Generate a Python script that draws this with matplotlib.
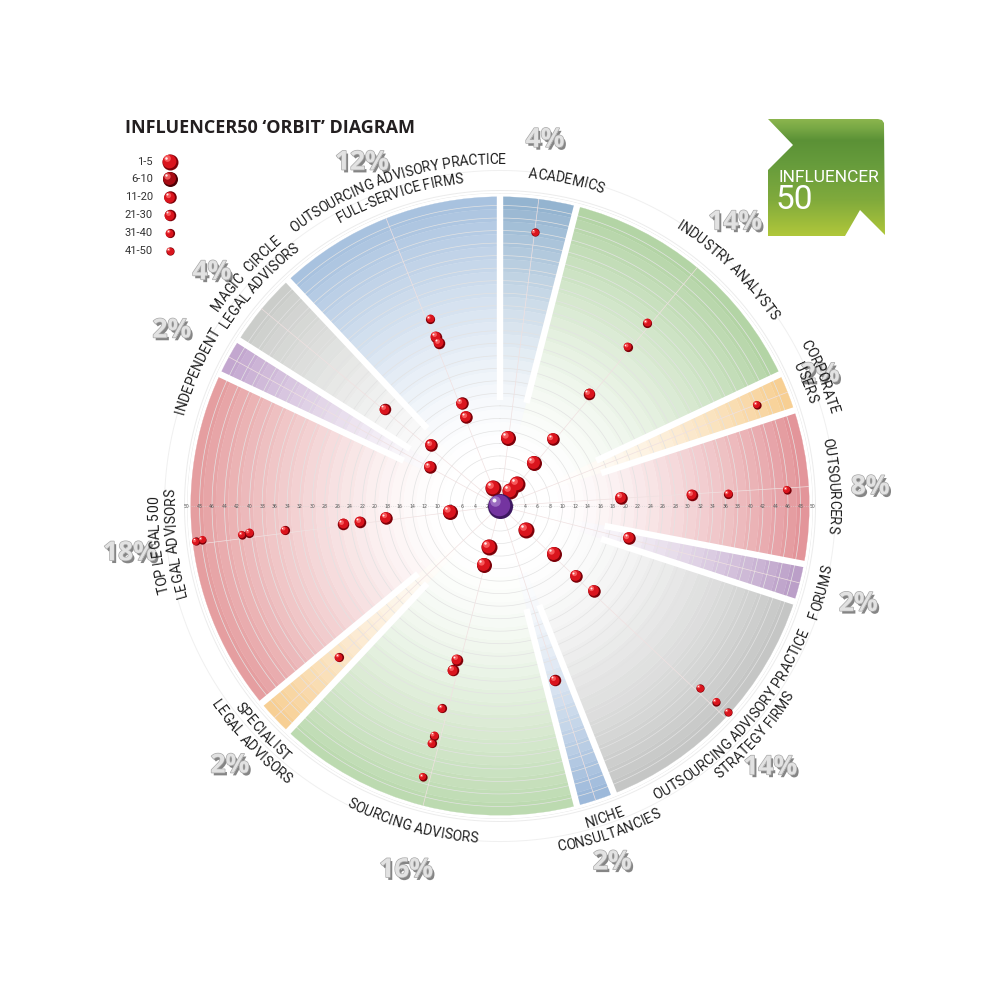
import numpy as np
import matplotlib
matplotlib.use('Agg')
import matplotlib.pyplot as plt
import matplotlib.colors as mcolors
from matplotlib import transforms, patheffects
from matplotlib.font_manager import FontProperties
from matplotlib.patches import Polygon

## Data
shares = [4, 14, 2, 8, 2, 14, 2, 16, 2, 18, 2, 4, 12]
label_lines = [
    ['ACADEMICS'],
    ['INDUSTRY ANALYSTS'],
    ['CORPORATE', 'USERS'],
    ['OUTSOURCERS'],
    ['FORUMS'],
    ['OUTSOURCING ADVISORY PRACTICE', 'STRATEGY FIRMS'],
    ['NICHE', 'CONSULTANCIES'],
    ['SOURCING ADVISORS'],
    ['SPECIALIST', 'LEGAL ADVISORS'],
    ['TOP LEGAL 500', 'LEGAL ADVISORS'],
    ['INDEPENDENT'],
    ['MAGIC  CIRCLE', 'LEGAL ADVISORS'],
    ['OUTSOURCING ADVISORY PRACTICE', 'FULL-SERVICE FIRMS'],
]
sector_colors = ['#94b4d0', '#b3d4a5', '#f7cf93', '#e3959a', '#bb9fc8', '#c5c6c5',
                 '#9db9da', '#bcdab0', '#f7cf94', '#e59ea0', '#c3a7cf', '#cbcdca', '#a8c2df']

# influencers: sector index, angle (deg, clockwise from top), distance from centre
bubble_sector = [0, 0,
                 1, 1, 1, 1, 1, 1, 1,
                 2,
                 3, 3, 3, 3,
                 4,
                 5, 5, 5, 5, 5, 5, 5,
                 6,
                 7, 7, 7, 7, 7, 7, 7, 7,
                 8,
                 9, 9, 9, 9, 9, 9, 9, 9, 9,
                 10,
                 11, 11,
                 12, 12, 12, 12, 12, 12]
bubble_theta = [7.3, 6.7,
                38.8, 38.8, 38.5, 38.3, 38.3, 37.7, 33.7,
                68.5,
                86.2, 86.7, 87.0, 86.8,
                104.0,
                132.7, 131.6, 132.6, 132.1, 132.3, 132.2, 132.1,
                162.5,
                195.0, 195.2, 195.6, 196.0, 196.0, 196.0, 196.0, 195.9,
                226.8,
                263.2, 264.0, 263.5, 263.5, 263.6, 263.9, 263.6, 263.5, 263.4,
                299.1,
                311.5, 310.1,
                338.7, 339.1, 339.7, 339.5, 339.3, 339.5]
bubble_r = [44.1, 10.9,
            37.5, 32.6, 22.9, 13.6, 8.8, 4.4, 2.9,
            44.1,
            19.4, 30.7, 36.5, 45.9,
            21.2,
            5.7, 11.5, 16.5, 20.2, 43.2, 46.6, 49.1,
            29.2,
            6.8, 9.8, 25.5, 27.3, 33.6, 38.2, 39.4, 45.0,
            35.3,
            8.0, 18.3, 22.5, 25.2, 34.6, 40.3, 41.5, 47.9, 48.9,
            12.8,
            14.7, 24.0,
            3.1, 15.2, 17.5, 27.8, 28.9, 31.9]

legend_labels = ['1-5', '6-10', '11-20', '21-30', '31-40', '41-50']
legend_upper = [5, 10, 20, 30, 40, 50]

# layout (not data): where the texts sit
label_angle = [11.5, 44, 68, 86.5, 105, 132, 161.5, 195.5, 226.5, 263.5, 294.0, 312.5, 342]
label_flip = [False, False, False, False, True, True, True, True, True, False, False, False, False]
pct_pos = [(7.0, 59.0), (39.6, 58.9), (67.6, 55.3), (87.0, 59.2), (105.2, 59.3), (134.0, 60.0),
           (162.5, 59.6), (194.5, 60.0), (226.2, 59.8), (262.8, 59.6), (298.2, 59.5),
           (309.1, 59.3), (338.1, 59.2)]

bin_diam = [16, 15, 12.5, 11.5, 9.2, 8.3]  # px
leg_dark = ['#7d0008', '#4e0005', '#7d0008', '#7d0008', '#7d0008', '#7d0008']
leg_mid = ['#da141d', '#a80b14', '#da141d', '#da141d', '#da141d', '#da141d']

LABEL_FONT = 'Roboto'

fig = plt.figure(figsize=(10, 10), dpi=100)
fig.patch.set_facecolor('white')
ax = fig.add_axes([0.187, 0.181, 0.626, 0.626], projection='polar')
ax.set_theta_zero_location('N')
ax.set_theta_direction(-1)
ax.set_ylim(0, 50)
ax.axis('off')

shares_a = np.array(shares, dtype=float)
edges = np.concatenate([[0], np.cumsum(shares_a)]) * 3.6
widths = shares_a * 3.6
mids = edges[:-1] + widths / 2

## Coloured wedges, stepped fade to the centre
ring_top = np.arange(49.4, 9, -2.0)
for i in range(len(shares)):
    base = np.array(mcolors.to_rgb(sector_colors[i]))
    for top in ring_top:
        t = np.clip((top - 1 - 8) / (48.4 - 8), 0, 1) ** 1.5
        col = 1 - t * (1 - base)
        ax.bar(np.radians(mids[i]), 2.0, width=np.radians(widths[i]), bottom=top - 2,
               color=col, edgecolor=col, lw=0.2, zorder=1)

tt = np.linspace(0, 2 * np.pi, 721)
for k in range(2, 51, 2):
    ax.plot(tt, np.full_like(tt, k), color='#e3e3e3', lw=0.5, zorder=2)
ax.plot(tt, np.full_like(tt, 50.4), color='#ececec', lw=0.7, zorder=2, clip_on=False)
ax.plot(tt, np.full_like(tt, 53.6), color='#f0f0f0', lw=0.7, zorder=2, clip_on=False)

for m in mids:
    ax.plot([np.radians(m)] * 2, [0, 49.4], color='#f0e1e1', lw=0.5, zorder=2)

for e in edges[:-1]:
    ax.plot([np.radians(e)] * 2, [17, 49.8], color='white', lw=4.6, zorder=3,
            solid_capstyle='butt')

for a in (90, 270):
    ax.plot([np.radians(a)] * 2, [0, 50], color='#d5d5d5', lw=0.5, ls=':', zorder=3)
    for k in range(2, 51, 2):
        ax.text(np.radians(a), k, str(k), fontsize=3.3, color='#555555',
                ha='center', va='center', zorder=4)


## Spheres
def spheres(axis, xs, ys, diam, dark, mid, light, z):
    d = diam * 0.72
    def shift(f):
        return axis.transData + transforms.ScaledTranslation(-d * f / 72, d * f / 72,
                                                             fig.dpi_scale_trans)
    axis.scatter(xs, ys, s=d ** 2, c=dark, lw=0, zorder=z, clip_on=False)
    axis.scatter(xs, ys, s=(d * 0.86) ** 2, c=mid, lw=0, zorder=z + 0.1,
                 transform=shift(0.06), clip_on=False)
    axis.scatter(xs, ys, s=(d * 0.42) ** 2, c=light, lw=0, zorder=z + 0.2, alpha=0.8,
                 transform=shift(0.2), clip_on=False)
    axis.scatter(xs, ys, s=(d * 0.16) ** 2, c='white', lw=0, zorder=z + 0.3, alpha=0.9,
                 transform=shift(0.26), clip_on=False)


rank = np.empty(len(bubble_r), dtype=int)
rank[np.argsort(bubble_r, kind='stable')] = np.arange(1, len(bubble_r) + 1)
bins = np.searchsorted(legend_upper, rank)
th = np.radians(bubble_theta)
rr = np.array(bubble_r)
order = np.argsort(-rr)
for j in order:
    b = bins[j]
    spheres(ax, [th[j]], [rr[j]], bin_diam[b], '#7d0008', '#da141d', '#ff6a6a',
            5 + (50 - rr[j]) * 0.01)

spheres(ax, [0], [0], 25, '#3d1760', '#7434a0', '#a679c9', 6)

## Percentages
pe = [patheffects.SimplePatchShadow(offset=(1.6, -2.0), shadow_rgbFace='#222222', alpha=0.55),
      patheffects.Stroke(linewidth=1.0, foreground='#a8a8a8'), patheffects.Normal()]
for (a, r), s in zip(pct_pos, shares):
    ax.text(np.radians(a), r, f'{s}%', fontsize=19, fontweight='bold', color='#e2e2e2',
            family='Open Sans', ha='center', va='center', path_effects=pe, clip_on=False,
            zorder=6)

## Curved sector labels
renderer = fig.canvas.get_renderer()
p0 = ax.transData.transform((0, 0))
p1 = ax.transData.transform((0, 50))
ppu = np.hypot(*(p1 - p0)) / 50
fp = FontProperties(family=LABEL_FONT, size=10)


def text_w(s):
    return renderer.get_text_width_height_descent(s, fp, ismath=False)[0]


def arc_text(s, theta_c, r, flip):
    bar = text_w('|')
    pos = [text_w(s[:i] + '|') - bar for i in range(len(s) + 1)]
    total = pos[-1]
    R = r * ppu
    for i, ch in enumerate(s):
        if ch == ' ':
            continue
        d = np.degrees(((pos[i] + pos[i + 1]) / 2 - total / 2) / R)
        if flip:
            a = theta_c - d
            rot = 180 - a
        else:
            a = theta_c + d
            rot = -a
        ax.text(np.radians(a), r, ch, fontproperties=fp, color='#1e1e1e', rotation=rot,
                rotation_mode='anchor', ha='center', va='center', clip_on=False, zorder=6)


for lines, a, fl in zip(label_lines, label_angle, label_flip):
    if len(lines) == 1:
        arc_text(lines[0], a, 53.2, fl)
    else:
        radii = [52.6, 55.3] if fl else [55.3, 52.6]
        for ln, r in zip(lines, radii):
            arc_text(ln, a, r, fl)

## Overlay: title, legend, logo (pixel coordinates)
ov = fig.add_axes([0, 0, 1, 1])
ov.set_xlim(0, 1000)
ov.set_ylim(1000, 0)
ov.axis('off')
ov.patch.set_visible(False)

ov.text(125, 128, 'INFLUENCER50 \u2018ORBIT\u2019 DIAGRAM', fontsize=13, fontweight='bold',
        family='Open Sans', color='#231f20', ha='left', va='center')
leg_y = [161.7, 179.3, 197.3, 215.3, 233.3, 251]
for lab, y, dia, dk, md in zip(legend_labels, leg_y, bin_diam, leg_dark, leg_mid):
    ov.text(153, y, lab, fontsize=8, family=LABEL_FONT, color='#333333', ha='right', va='center')
    spheres(ov, [170], [y], dia, dk, md, '#ff6a6a', 5)

logo_x = [768, 878, 882, 884, 885, 860, 845, 768, 768, 793]
logo_y = [119, 119, 120, 123, 235, 210, 236, 236, 170, 145]
poly = Polygon(np.column_stack([logo_x, logo_y]), closed=True, facecolor='none', edgecolor='none')
ov.add_patch(poly)
stops_y = [119, 128, 140, 165, 200, 236]
stops_c = ['#8bb54e', '#78a845', '#5b9136', '#679c3c', '#80aa3c', '#b0c73a']
yy = np.linspace(119, 236, 200)
grad = np.stack([np.interp(yy, stops_y, [mcolors.to_rgb(c)[k] for c in stops_c]) for k in range(3)], axis=-1)
grad = np.repeat(grad[:, None, :], 10, axis=1)
im = ov.imshow(grad, extent=(768, 885, 236, 119), aspect='auto', zorder=3)
im.set_clip_path(poly)
ov.set_xlim(0, 1000)
ov.set_ylim(1000, 0)
ov.text(778, 177, 'INFLUENCER', fontsize=12.5, family=LABEL_FONT, color='white',
        ha='left', va='center', zorder=4)
ov.text(776, 200, '50', fontsize=24, family=LABEL_FONT, color='white',
        ha='left', va='center', zorder=4)

fig.savefig('out.png', dpi=100, facecolor='white')
